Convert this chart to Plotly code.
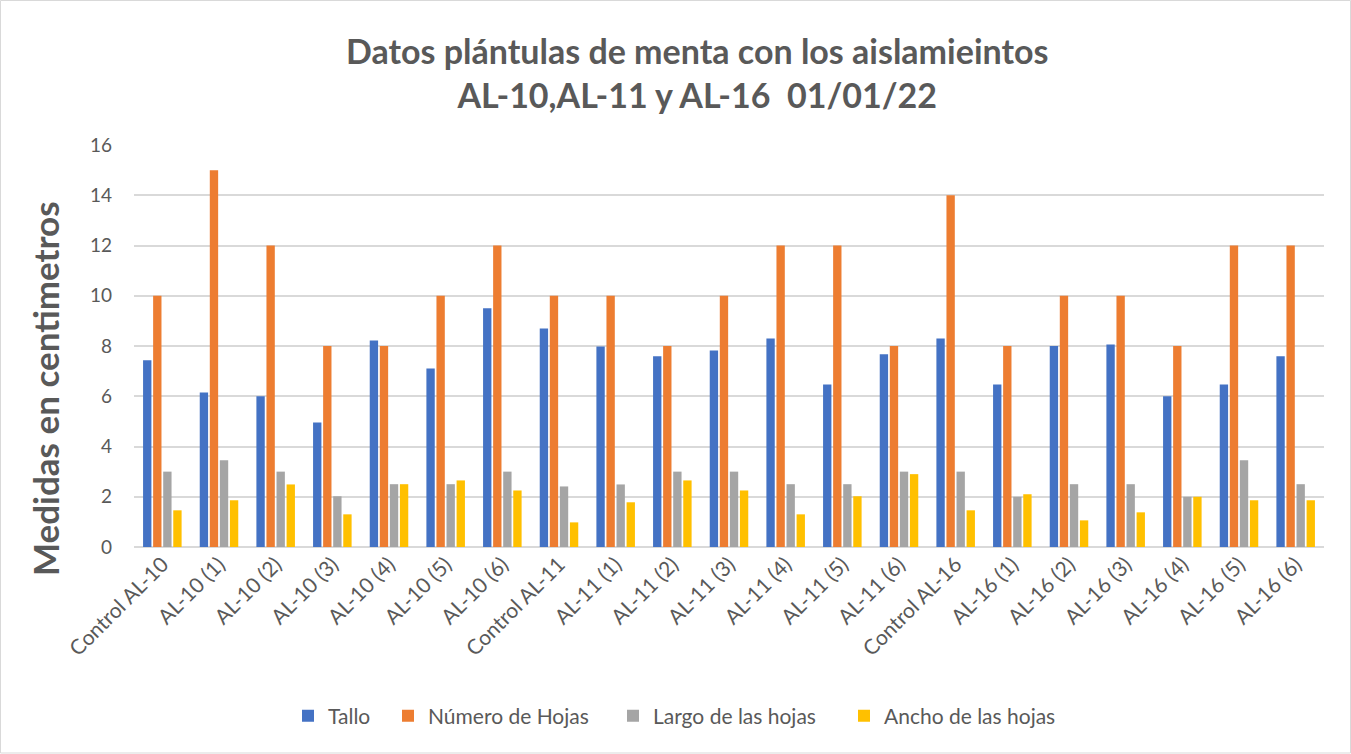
import plotly.graph_objects as go

categories = ["Control AL-10", "AL-10 (1)", "AL-10 (2)", "AL-10 (3)", "AL-10 (4)", "AL-10 (5)", "AL-10 (6)",
              "Control AL-11", "AL-11 (1)", "AL-11 (2)", "AL-11 (3)", "AL-11 (4)", "AL-11 (5)", "AL-11 (6)",
              "Control AL-16", "AL-16 (1)", "AL-16 (2)", "AL-16 (3)", "AL-16 (4)", "AL-16 (5)", "AL-16 (6)"]

tallo = [7.43, 6.15, 6.0, 4.96, 8.22, 7.1, 9.5,
         8.7, 7.98, 7.59, 7.82, 8.3, 6.47, 7.67,
         8.3, 6.47, 8.0, 8.06, 6.0, 6.47, 7.59]
numero_hojas = [10, 15, 12, 8, 8, 10, 12,
                10, 10, 8, 10, 12, 12, 8,
                14, 8, 10, 10, 8, 12, 12]
largo_hojas = [3.0, 3.45, 3.0, 2.02, 2.5, 2.5, 3.0,
               2.41, 2.49, 3.0, 3.0, 2.5, 2.5, 3.0,
               3.0, 2.0, 2.5, 2.5, 2.0, 3.45, 2.5]
ancho_hojas = [1.46, 1.86, 2.49, 1.3, 2.5, 2.65, 2.25,
               0.98, 1.78, 2.65, 2.25, 1.3, 2.02, 2.9,
               1.46, 2.1, 1.06, 1.38, 2.0, 1.86, 1.86]

series = [
    ("Tallo", tallo, "#4472C4"),
    ("Número de Hojas", numero_hojas, "#ED7D31"),
    ("Largo de las hojas", largo_hojas, "#A5A5A5"),
    ("Ancho de las hojas", ancho_hojas, "#FFC000"),
]

FONT = "Lato"
TXT = "#595959"
W, H = 1351, 754
L, R, T, B = 134, 27, 145, 207
PW, PH = W - L - R, H - T - B


def px_x(p):
    return (p - L) / PW


def px_y(p):
    return (H - B - p) / PH


legend_ids = ["legend", "legend2", "legend3", "legend4"]
legend_text_x = [324, 424, 649, 880]

fig = go.Figure()
for (name, vals, col), lid in zip(series, legend_ids):
    fig.add_trace(go.Bar(x=categories, y=vals, name=name, legend=lid,
                         marker=dict(color=col, line=dict(width=0))))

legend_layout = {}
for lid, tx in zip(legend_ids, legend_text_x):
    legend_layout[lid] = dict(orientation="h", x=px_x(tx - 36), xanchor="left", y=px_y(716), yanchor="middle",
                              font=dict(family=FONT, size=21, color=TXT), bgcolor="rgba(0,0,0,0)")

fig.update_layout(
    width=W, height=H,
    paper_bgcolor="white", plot_bgcolor="white",
    barmode="group", bargap=0.29, bargroupgap=0.17,
    margin=dict(l=L, r=R, t=T, b=B, autoexpand=False),
    font=dict(family=FONT, color=TXT),
    showlegend=True,
    **legend_layout,
)
fig.update_yaxes(range=[0, 16], dtick=2, showgrid=True, gridcolor="#D9D9D9", gridwidth=1.5,
                 zeroline=True, zerolinecolor="#D9D9D9", zerolinewidth=1.5,
                 tickfont=dict(family=FONT, size=19, color=TXT), ticks="", ticklabelstandoff=21,
                 showline=False)
fig.update_xaxes(tickangle=-45, tickfont=dict(family=FONT, size=21, color=TXT), showline=False,
                 ticks="", showgrid=False)

# chart title
fig.add_annotation(text="Datos plántulas de menta con los aislamieintos<br>AL-10,AL-11 y AL-16  01/01/22",
                   xref="paper", yref="paper", x=px_x(697), y=px_y(73), xanchor="center", yanchor="middle",
                   showarrow=False, font=dict(family=FONT, size=34, color=TXT, weight="bold"))
# y-axis title
fig.add_annotation(text="Medidas en centimetros", textangle=-90,
                   xref="paper", yref="paper", x=px_x(45), y=px_y(389), xanchor="center", yanchor="middle",
                   showarrow=False, font=dict(family=FONT, size=35, color=TXT, weight="bold"))

fig.add_shape(type="rect", xref="paper", yref="paper", x0=px_x(0.5), x1=px_x(1350.5), y0=px_y(753), y1=px_y(0.5),
              line=dict(color="#D9D9D9", width=1), fillcolor="rgba(0,0,0,0)", layer="below")

fig.write_html("out.html", config={"displayModeBar": False},
               post_script="document.body.style.margin='0px';")
